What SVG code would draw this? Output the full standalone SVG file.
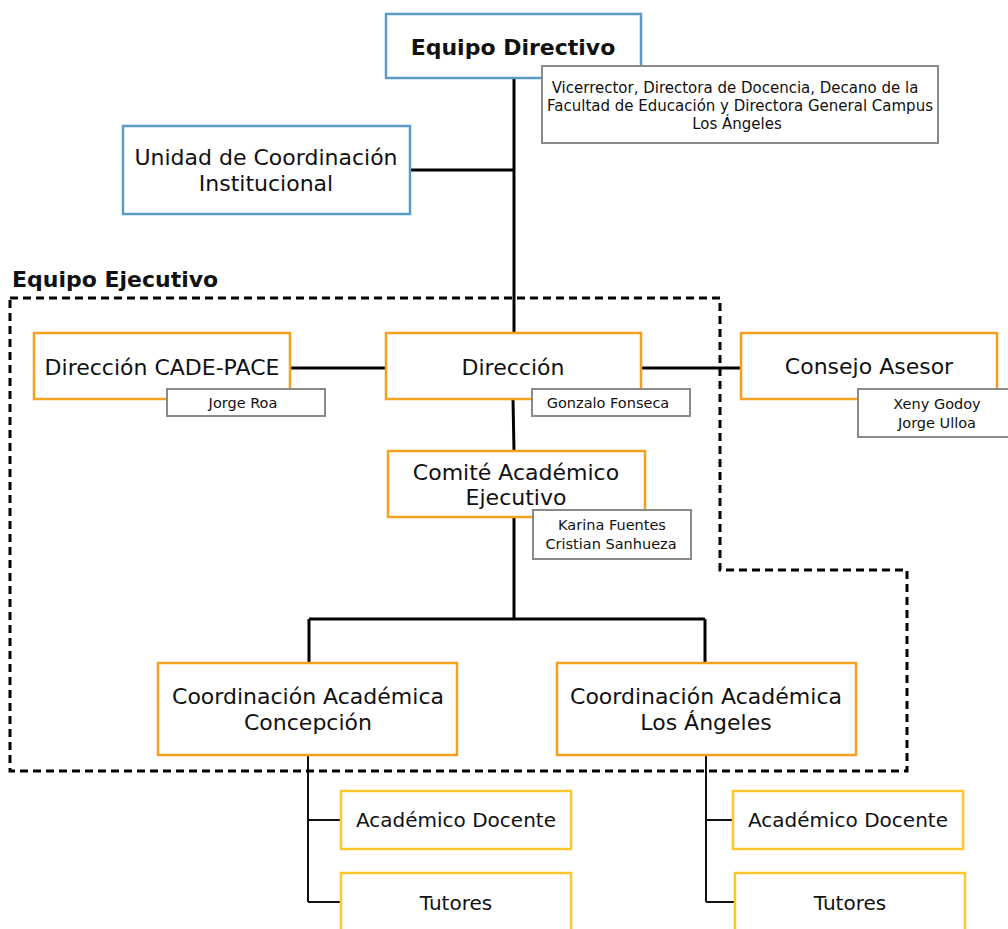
<svg xmlns="http://www.w3.org/2000/svg" width="1008" height="929" viewBox="0 0 1008 929">
<style>
text{font-family:"DejaVu Sans",Verdana,sans-serif;fill:#111;text-anchor:middle}
.blue{fill:#fff;stroke:#5b9bc8;stroke-width:2.5}
.orange{fill:#fff;stroke:#f5a020;stroke-width:2.5}
.yellow{fill:#fff;stroke:#ffc52a;stroke-width:2.5}
.note{fill:#fff;stroke:#8a8a8a;stroke-width:2}
.main{font-size:22px}
.sub{font-size:20px}
.small{font-size:14.5px}
.c3{stroke:#000;stroke-width:3;fill:none}
.c2{stroke:#111;stroke-width:2;fill:none}
</style>
<rect width="1008" height="929" fill="#fff"/>
<g id="connectors">
<path class="c3" d="M514 78V333M410 170H514M290 368H386M641 368H741M513 399L514 451M514 517V619M309 619H705M309 619V663M705 619V663"/>
<path class="c2" d="M308 755V902M308 820H341M308 902H341M706 755V902M706 820H733M706 902H735"/>
</g>
<g id="equipo-ejecutivo">
<path d="M10 298H720V570H907V771H10Z" fill="none" stroke="#000" stroke-width="3" stroke-dasharray="8,5"/>
<text x="12" y="287" style="font-size:22px;font-weight:bold;text-anchor:start">Equipo Ejecutivo</text>
</g>
<g id="equipo-directivo">
<rect class="blue" x="386" y="14" width="255" height="64"/>
<text x="513" y="55" style="font-size:22px;font-weight:bold">Equipo Directivo</text>
</g>
<g id="nota-directivo">
<rect class="note" x="542" y="66" width="396" height="77"/>
<text x="735" y="93" style="font-size:15px">Vicerrector, Directora de Docencia, Decano de la</text>
<text x="740" y="111" style="font-size:15px">Facultad de Educación y Directora General Campus</text>
<text x="737" y="129" style="font-size:15px">Los Ángeles</text>
</g>
<g id="unidad">
<rect class="blue" x="123" y="126" width="287" height="88"/>
<text class="main" x="266" y="165">Unidad de Coordinación</text>
<text class="main" x="266" y="191">Institucional</text>
</g>
<g id="cade-pace">
<rect class="orange" x="34" y="333" width="256" height="66"/>
<text class="main" x="162" y="375">Dirección CADE-PACE</text>
</g>
<g id="nota-roa">
<rect class="note" x="167" y="389" width="158" height="27"/>
<text class="small" x="243" y="408">Jorge Roa</text>
</g>
<g id="direccion">
<rect class="orange" x="386" y="333" width="255" height="66"/>
<text class="main" x="513" y="375">Dirección</text>
</g>
<g id="nota-fonseca">
<rect class="note" x="532" y="389" width="158" height="27"/>
<text class="small" x="608" y="408">Gonzalo Fonseca</text>
</g>
<g id="consejo">
<rect class="orange" x="741" y="333" width="256" height="66"/>
<text class="main" x="869" y="374">Consejo Asesor</text>
</g>
<g id="nota-consejo">
<rect class="note" x="858" y="389" width="152" height="48"/>
<text class="small" x="937" y="409">Xeny Godoy</text>
<text class="small" x="937" y="428">Jorge Ulloa</text>
</g>
<g id="comite">
<rect class="orange" x="388" y="451" width="257" height="66"/>
<text class="main" x="516" y="480">Comité Académico</text>
<text class="main" x="516" y="505">Ejecutivo</text>
</g>
<g id="nota-comite">
<rect class="note" x="533" y="510" width="158" height="49"/>
<text class="small" x="612" y="530">Karina Fuentes</text>
<text class="small" x="611" y="549">Cristian Sanhueza</text>
</g>
<g id="coord-concepcion">
<rect class="orange" x="158" y="663" width="299" height="92"/>
<text class="main" x="308" y="704">Coordinación Académica</text>
<text class="main" x="308" y="730">Concepción</text>
</g>
<g id="coord-angeles">
<rect class="orange" x="557" y="663" width="299" height="92"/>
<text class="main" x="706" y="704">Coordinación Académica</text>
<text class="main" x="706" y="730">Los Ángeles</text>
</g>
<g id="docente-1">
<rect class="yellow" x="341" y="791" width="230" height="58"/>
<text class="sub" x="456" y="827">Académico Docente</text>
</g>
<g id="tutores-1">
<rect class="yellow" x="341" y="873" width="230" height="70"/>
<text class="sub" x="456" y="910">Tutores</text>
</g>
<g id="docente-2">
<rect class="yellow" x="733" y="791" width="230" height="58"/>
<text class="sub" x="848" y="827">Académico Docente</text>
</g>
<g id="tutores-2">
<rect class="yellow" x="735" y="873" width="230" height="70"/>
<text class="sub" x="850" y="910">Tutores</text>
</g>
</svg>
